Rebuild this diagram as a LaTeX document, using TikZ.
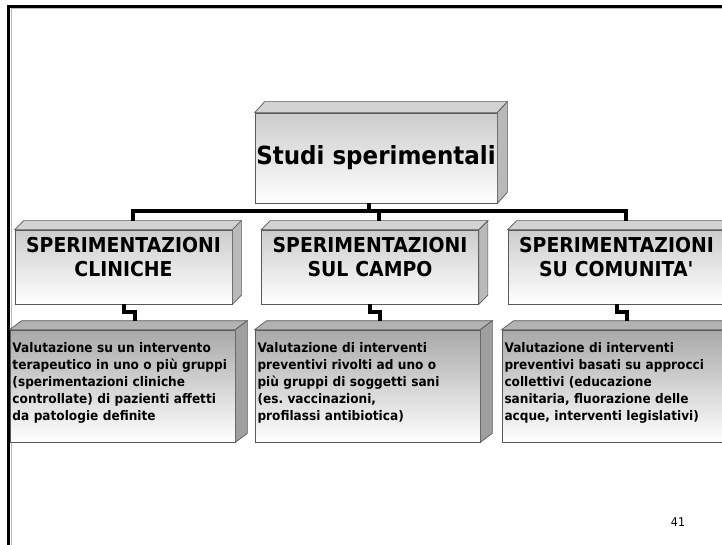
\documentclass[tikz,border=0pt]{standalone}
\usepackage{fontspec}
\setmainfont{DejaVu Sans}[FakeStretch=0.92]
\usetikzlibrary{calc}

\begin{document}
\begin{tikzpicture}[x=1pt,y=-1pt,
  face/.style={draw=black!65, line width=0.7pt},
  conn/.style={line width=4pt},
  headbox/.style={face, top color=gray!40, bottom color=white, minimum width=242, minimum height=90, inner sep=0pt, font=\fontsize{25}{30}\selectfont\bfseries},
  kindbox/.style={face, top color=gray!40, bottom color=white, text width=209pt, align=center, inner xsep=4pt, inner ysep=0pt, text height=22.5pt, text depth=51.5pt, font=\fontsize{20.5}{24}\selectfont\bfseries},
  descbox/.style={face, top color=gray!68, bottom color=white, text width=220pt, align=left, inner xsep=2.5pt, inner ysep=0pt, text height=22pt, text depth=90pt, font=\fontsize{13.2}{17}\selectfont\bfseries}]
\useasboundingbox (0,0) rectangle (722,545);
\clip (0,0) rectangle (722,545);

% slide frame
\draw[gray!55, line width=1pt] (11,545) -- (11,9) -- (722,9);
\draw[line width=3pt] (8.5,545) -- (8.5,6.5) -- (722,6.5);

\node[headbox] (main) at (376,158) {Studi sperimentali};

\node[kindbox] (c1) at (123.5,267) {SPERIMENTAZIONI\\CLINICHE};
\node[kindbox] (c2) at (370,267) {SPERIMENTAZIONI\\SUL CAMPO};
\node[kindbox] (c3) at (616.5,267) {SPERIMENTAZIONI\\SU COMUNITA\textquotesingle};

\node[descbox] (d1) at (122.5,386) {Valutazione su un intervento\\terapeutico in uno o più gruppi\\(sperimentazioni cliniche\\controllate) di pazienti affetti\\da patologie definite};
\node[descbox] (d2) at (367.5,386) {Valutazione di interventi\\preventivi rivolti ad uno o\\più gruppi di soggetti sani\\(es.\ vaccinazioni,\\profilassi antibiotica)};
\node[descbox] (d3) at (614.5,386) {Valutazione di interventi\\preventivi basati su approcci\\collettivi (educazione\\sanitaria, fluorazione delle\\acque, interventi legislativi)};

% top and side faces
\foreach \n/\d/\e/\ft/\fs in {main/10/11/gray!35/gray!55, c1/9/9/gray!35/gray!55, c2/9/9/gray!35/gray!55, c3/9/9/gray!35/gray!55, d1/12/9/gray!60/gray!75, d2/12/9/gray!60/gray!75, d3/12/9/gray!60/gray!75} {
  \filldraw[face, fill=\ft] (\n.north west) -- ++(\d,-\e) -- ($(\n.north east)+(\d,-\e)$) -- (\n.north east) -- cycle;
  \filldraw[face, fill=\fs] (\n.north east) -- ++(\d,-\e) -- ($(\n.south east)+(\d,-\e)$) -- (\n.south east) -- cycle;
}

\coordinate (bus) at ($(main.south)+(0,8)$);
\coordinate (c1t) at ($(c1.north)+(9,-9)$);
\coordinate (c2t) at ($(c2.north)+(9,-9)$);
\coordinate (c3t) at ($(c3.north)+(9,-9)$);
\coordinate (d1t) at ($(d1.north)+(12,-9)$);
\coordinate (d2t) at ($(d2.north)+(12,-9)$);
\coordinate (d3t) at ($(d3.north)+(12,-9)$);

\draw[conn] (c1t) |- (c3t |- bus) -- (c3t);
\draw[conn] (c2t) -- (c2t |- bus);
\draw[conn] ([xshift=-7pt]main.south) -- ([xshift=-7pt]main.south |- bus);

\draw[conn] (c1.south) -- ++(0,8) -| (d1t);
\draw[conn] (c2.south) -- ++(0,8) -| (d2t);
\draw[conn] (c3.south) -- ++(0,8) -| (d3t);

\node[font=\fontsize{12}{14}\selectfont] (pnum) at (678,522) {41};
\end{tikzpicture}
\end{document}
